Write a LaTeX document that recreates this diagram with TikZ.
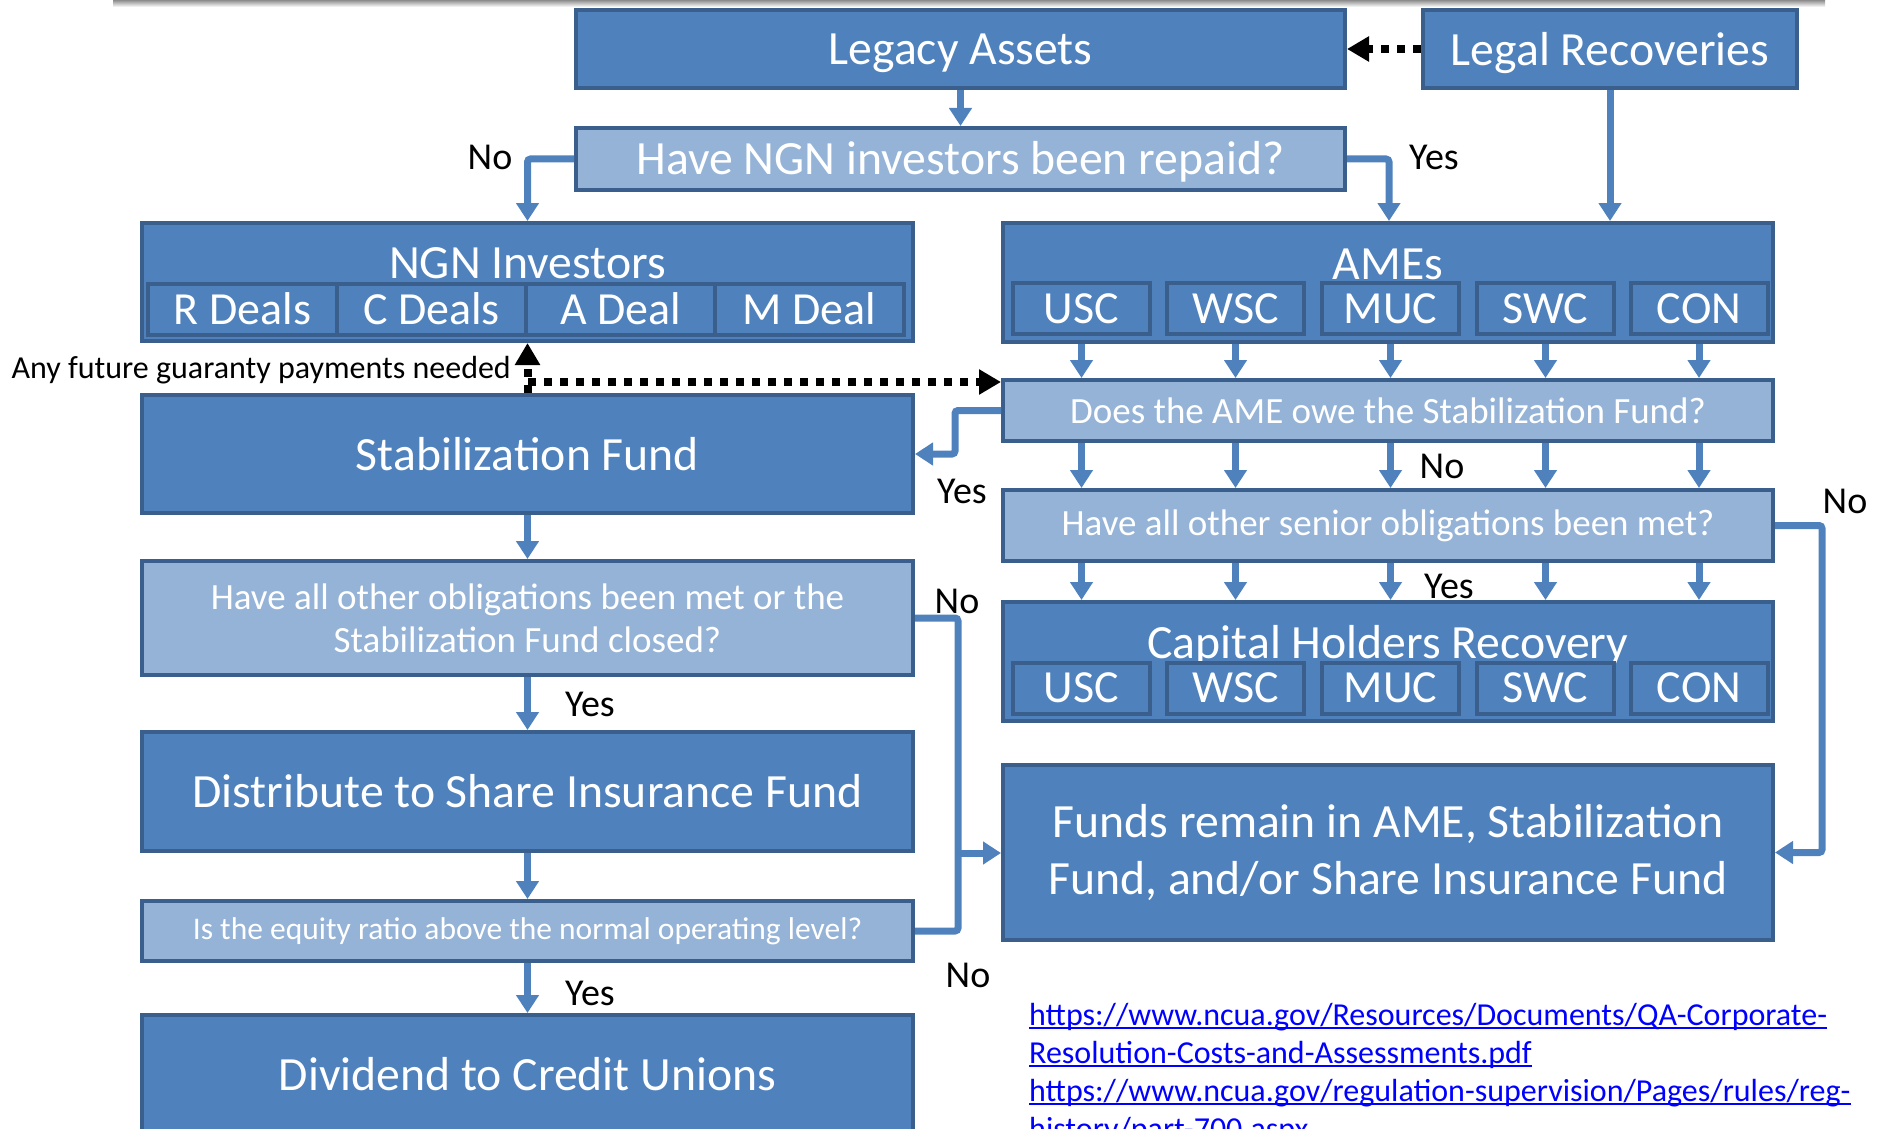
\documentclass[tikz,border=0pt]{standalone}
\usepackage{fontspec}
\setmainfont{Carlito}
\usetikzlibrary{arrows.meta}
\definecolor{bx}{HTML}{4F81BD}
\definecolor{bxd}{HTML}{3A5F8D}
\definecolor{lb}{HTML}{95B3D7}
\definecolor{lnk}{HTML}{0000FF}
\begin{document}
\begin{tikzpicture}[x=1pt,y=-1pt,
 box/.style={draw=bxd, line width=4pt, fill=bx, text=white, inner sep=0pt, font=\fontsize{47.7}{57}\selectfont, align=center},
 qbox/.style={box, fill=lb},
 ttl/.style={text=white, inner sep=0pt, font=\fontsize{47.7}{57}\selectfont, align=center},
 subbox/.style={draw=bxd, line width=4pt, fill=bx, text=white, inner sep=0pt, font=\fontsize{46}{55}\selectfont, minimum height=51pt},
 flow/.style={draw=bx, line width=7pt, rounded corners=3pt, -{Triangle[width=22pt,length=18pt]}},
 flowl/.style={draw=bx, line width=7pt, rounded corners=3pt},
 dots/.style={draw=black, line width=8pt, dash pattern=on 8pt off 8pt, -{Triangle[width=24pt,length=22pt]}},
 lbl/.style={font=\fontsize{38}{44}\selectfont, inner sep=0pt},
 url/.style={font=\fontsize{32}{38}\selectfont, text=lnk, inner sep=0pt, anchor=base west},
 uline/.style={draw=lnk, line width=2pt},
]
\useasboundingbox (0,0) rectangle (1880,1129);
\clip (0,0) rectangle (1880,1129);
\shade[top color=black!45, bottom color=white] (113,0) rectangle (1825,7);

% top boxes
\node[box, minimum width=769pt, minimum height=78pt] (legacy) at (960.5,49) {};
\node[ttl] (legacyT) at (960.5,53) {Legacy Assets};
\node[box, minimum width=374pt, minimum height=78pt] (legal) at (1610,49) {};
\node[ttl] (legalT) at (1610,53) {Legal Recoveries};
\node[qbox, minimum width=769pt, minimum height=62pt] (q1) at (960.5,159) {};
\node[ttl] (q1T) at (960.5,162) {Have NGN investors been repaid?};

\node[box, minimum width=771pt, minimum height=118pt] (ngn) at (527.5,282) {};
\node[ttl] (ngnT) at (527.5,263) {NGN Investors};
\node[subbox, minimum width=189pt] (n1) at (242.5,309) {R Deals};
\node[subbox, minimum width=189pt] (n2) at (431.5,309) {C Deals};
\node[subbox, minimum width=189pt] (n3) at (620.5,309) {A Deal};
\node[subbox, minimum width=189pt] (n4) at (809.5,309) {M Deal};

\node[box, minimum width=770pt, minimum height=119pt] (ames) at (1388,282.5) {};
\node[ttl] (amesT) at (1388,264) {AMEs};
\foreach \i/\x/\t in {1/1081.5/USC,2/1235.5/WSC,3/1390.5/MUC,4/1545.5/SWC,5/1699/CON}
  \node[subbox, minimum width=137pt] (a\i) at (\x,308.5) {\t};

\node[qbox, minimum width=770pt, minimum height=61pt, font=\fontsize{37}{44}\selectfont] (owe) at (1388,410.5) {Does the AME owe the Stabilization Fund?};
\node[qbox, minimum width=770pt, minimum height=71pt, font=\fontsize{37}{44}\selectfont] (senior) at (1388,525.5) {Have all other senior obligations been met?};

\node[box, minimum width=770pt, minimum height=119pt] (cap) at (1388,661.5) {};
\node[ttl] (capT) at (1388,646) {Capital Holders Recovery};
\foreach \i/\x/\t in {1/1081.5/USC,2/1235.5/WSC,3/1390.5/MUC,4/1545.5/SWC,5/1699/CON}
  \node[subbox, minimum width=137pt] (c\i) at (\x,688) {\t};

\node[box, minimum width=770pt, minimum height=175pt] (funds) at (1388,852.5) {Funds remain in AME, Stabilization\\Fund, and/or Share Insurance Fund};

\node[box, minimum width=771pt, minimum height=118pt] (stab) at (527.5,454) {Stabilization Fund};
\node[qbox, minimum width=771pt, minimum height=114pt, font=\fontsize{37}{43}\selectfont] (oblig) at (527.5,618) {Have all other obligations been met or the\\Stabilization Fund closed?};
\node[box, minimum width=771pt, minimum height=119pt] (dist) at (527.5,791.5) {Distribute to Share Insurance Fund};
\node[qbox, minimum width=771pt, minimum height=60pt, font=\fontsize{31.5}{38}\selectfont] (equity) at (527.5,931) {Is the equity ratio above the normal operating level?};
\node[box, minimum width=771pt, minimum height=130pt] (divid) at (527.5,1080) {};
\node[ttl] (dividT) at (527.5,1074) {Dividend to Credit Unions};

% connectors
\draw[flow] (legacy.south) -- (q1.north);
\draw[flow] (q1.west) -| (ngn.north);
\coordinate (yx) at (1389,0);
\draw[flow] (q1.east) -| (yx |- ames.north);
\draw[flow] (legal.south) -- (legal.south |- ames.north);
\draw[dots] (legal.west) -- (legacy.east);

\foreach \i in {1,...,5} {
  \draw[flow] (a\i |- ames.south) -- (a\i |- owe.north);
  \draw[flow] (a\i |- owe.south) -- (a\i |- senior.north);
  \draw[flow] (a\i |- senior.south) -- (a\i |- cap.north);
}
\draw[flow] (owe.west) -- ++(-46,0) |- (stab.east);
\draw[flow] (senior.east) -- ++(47,0) |- (funds.east);

\draw[flow] (stab.south) -- (oblig.north);
\draw[flow] (oblig.south) -- (dist.north);
\draw[flow] (dist.south) -- (equity.north);
\draw[flow] (equity.south) -- (divid.north);

\coordinate (nx) at (958,853);
\draw[flowl] (oblig.east) -| (nx);
\draw[flowl] (equity.east) -| (nx);
\draw[flow] (nx) -- (nx -| funds.west);

\draw[dots] (stab.north) -- (ngn.south);
\coordinate (dj) at (528,382);
\draw[dots] (dj) -- (dj -| owe.west);

% labels
\node[lbl] (l1) at (490,157) {No};
\node[lbl] (l2) at (1434,157) {Yes};
\node[lbl] (l3) at (962,491) {Yes};
\node[lbl] (l4) at (1442,466) {No};
\node[lbl] (l5) at (1845,501) {No};
\node[lbl] (l6) at (1449,586) {Yes};
\node[lbl] (l7) at (957,601) {No};
\node[lbl] (l8) at (590,704) {Yes};
\node[lbl] (l9) at (590,993) {Yes};
\node[lbl] (l10) at (968,975) {No};
\node[font=\fontsize{32}{38}\selectfont, inner sep=0pt, anchor=east] (guar) at (511,370) {Any future guaranty payments needed};

% links
\node[url] (u1) at (1029,1025) {https://www.ncua.gov/Resources/Documents/QA-Corporate-};
\node[url] (u2) at (1029,1063) {Resolution-Costs-and-Assessments.pdf};
\node[url] (u3) at (1029,1101) {https://www.ncua.gov/regulation-supervision/Pages/rules/reg-};
\node[url] (u4) at (1029,1139) {history/part-700.aspx};
\foreach \u in {u1,u2,u3,u4}
  \draw[uline] ([yshift=-3pt]\u.base west) -- ([yshift=-3pt]\u.base east);
\end{tikzpicture}
\end{document}
